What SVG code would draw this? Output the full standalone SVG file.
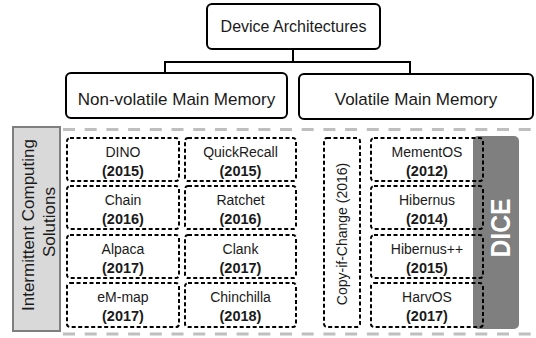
<svg xmlns="http://www.w3.org/2000/svg" width="536" height="338" viewBox="0 0 536 338">
<style>
text{font-family:"Liberation Sans",Arial,sans-serif;fill:#1a1a1a;text-anchor:middle}
.solid{fill:#fff;stroke:#000;stroke-width:2}
.dash{fill:none;stroke:#000;stroke-width:2;stroke-dasharray:4 2.5}
.nm{font-size:14px}
.yr{font-size:14.5px;font-weight:bold}
.gl{fill:none;stroke:#bfbfbf;stroke-width:3;stroke-dasharray:12 9.7}
.conn{fill:none;stroke:#000;stroke-width:2}
</style>
<rect width="536" height="338" fill="#fff"/>
<g id="connectors">
<path class="conn" d="M293,49 V62 M165,62 H410 M165,61 V73 M410,61 V74"/>
</g>
<g id="root"><rect class="solid" x="207" y="4" width="173" height="45" rx="5"/><text x="293.5" y="32" font-size="16">Device Architectures</text></g>
<g id="nvmm"><rect class="solid" x="66" y="73" width="221" height="45" rx="5"/><text x="176.5" y="105" font-size="17">Non-volatile Main Memory</text></g>
<g id="vmm"><rect class="solid" x="299" y="74" width="234" height="45" rx="5"/><text x="416" y="105" font-size="17">Volatile Main Memory</text></g>
<g id="separators">
<line class="gl" x1="63" y1="129.5" x2="536" y2="129.5"/>
<line class="gl" x1="63" y1="334" x2="536" y2="334"/>
</g>
<g id="label">
<rect x="13" y="127" width="47" height="204" fill="#d9d9d9" stroke="#7f7f7f" stroke-width="2"/>
<text transform="translate(34,225) rotate(-90)" font-size="17" fill="#262626">Intermittent Computing</text>
<text transform="translate(54.5,222) rotate(-90)" font-size="17" fill="#262626">Solutions</text>
</g>
<g id="dice">
<rect x="473" y="136" width="46" height="193" rx="5" fill="#7f7f7f"/>
<text transform="translate(509.5,228) rotate(-90)" font-size="27" font-weight="bold" style="fill:#fff" textLength="59" lengthAdjust="spacingAndGlyphs">DICE</text>
</g>
<g id="dino"><rect class="dash" x="67" y="138" width="112" height="43" rx="3"/><text class="nm" x="123" y="157">DINO</text><text class="yr" x="123" y="176">(2015)</text></g>
<g id="quickrecall"><rect class="dash" x="185" y="138" width="111" height="43" rx="3"/><text class="nm" x="240.5" y="157">QuickRecall</text><text class="yr" x="240.5" y="176">(2015)</text></g>
<g id="chain"><rect class="dash" x="67" y="186" width="112" height="43" rx="3"/><text class="nm" x="123" y="205">Chain</text><text class="yr" x="123" y="224">(2016)</text></g>
<g id="ratchet"><rect class="dash" x="185" y="186" width="111" height="43" rx="3"/><text class="nm" x="240.5" y="205">Ratchet</text><text class="yr" x="240.5" y="224">(2016)</text></g>
<g id="alpaca"><rect class="dash" x="67" y="235" width="112" height="43" rx="3"/><text class="nm" x="123" y="254">Alpaca</text><text class="yr" x="123" y="273">(2017)</text></g>
<g id="clank"><rect class="dash" x="185" y="235" width="111" height="43" rx="3"/><text class="nm" x="240.5" y="254">Clank</text><text class="yr" x="240.5" y="273">(2017)</text></g>
<g id="emmap"><rect class="dash" x="67" y="283" width="112" height="44" rx="3"/><text class="nm" x="123" y="302">eM-map</text><text class="yr" x="123" y="321">(2017)</text></g>
<g id="chinchilla"><rect class="dash" x="185" y="283" width="111" height="44" rx="3"/><text class="nm" x="240.5" y="302">Chinchilla</text><text class="yr" x="240.5" y="321">(2018)</text></g>
<g id="copyifchange"><rect class="dash" x="324" y="138" width="36" height="189" rx="3"/><text class="nm" transform="translate(347,234) rotate(-90)">Copy-if-Change (2016)</text></g>
<g id="mementos"><rect class="dash" x="371" y="138" width="112" height="43" rx="3"/><text class="nm" x="427" y="157">MementOS</text><text class="yr" x="427" y="176">(2012)</text></g>
<g id="hibernus"><rect class="dash" x="371" y="186" width="112" height="43" rx="3"/><text class="nm" x="427" y="205">Hibernus</text><text class="yr" x="427" y="224">(2014)</text></g>
<g id="hibernuspp"><rect class="dash" x="371" y="235" width="112" height="43" rx="3"/><text class="nm" x="427" y="254">Hibernus++</text><text class="yr" x="427" y="273">(2015)</text></g>
<g id="harvos"><rect class="dash" x="371" y="283" width="112" height="44" rx="3"/><text class="nm" x="427" y="302">HarvOS</text><text class="yr" x="427" y="321">(2017)</text></g>
</svg>
